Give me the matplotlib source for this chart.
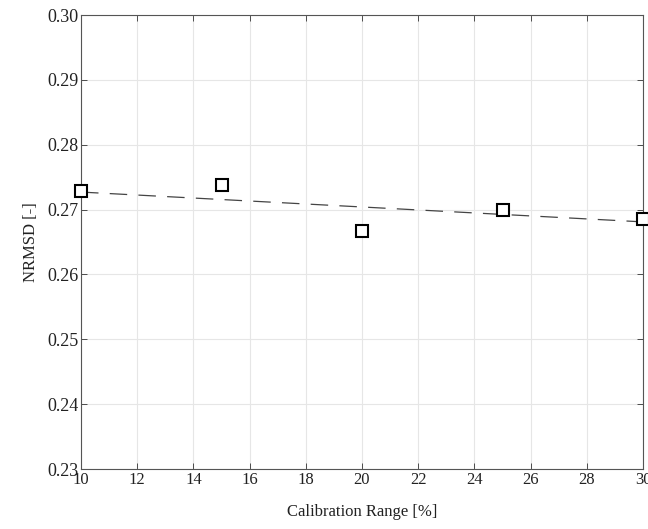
import matplotlib
matplotlib.use("Agg")
import matplotlib.pyplot as plt

# Data
calib_range = [10, 15, 20, 25, 30]
nrmsd = [0.2728, 0.2738, 0.2667, 0.2700, 0.2686]
trend_x = [10, 30]
trend_y = [0.2727, 0.2681]

x_ticks = [10, 12, 14, 16, 18, 20, 22, 24, 26, 28, 30]
y_ticks = [0.23, 0.24, 0.25, 0.26, 0.27, 0.28, 0.29, 0.30]

plt.rcParams["font.family"] = ["Liberation Serif", "DejaVu Serif"]
plt.rcParams["font.size"] = 12

fig = plt.figure(figsize=(6.48, 5.29), dpi=100)
ax = fig.add_axes([81 / 648, 1 - 469 / 529, (643 - 81) / 648, (469 - 15) / 529])

# dashed trend line
ax.plot(trend_x, trend_y, color="#444444", linestyle=(0, (14, 9)), linewidth=0.9,
        zorder=2)
ax.plot(calib_range, nrmsd, linestyle="none", marker="s", markersize=8,
        markerfacecolor="white", markeredgecolor="black", markeredgewidth=1.5,
        zorder=3, clip_on=False)

ax.set_xlim(10, 30)
ax.set_ylim(0.23, 0.30)
ax.set_xticks(x_ticks)
ax.set_yticks(y_ticks)
ax.set_yticklabels([f"{v:.2f}" for v in y_ticks])
ax.grid(True, color="#e6e6e6", linewidth=0.8)
ax.set_axisbelow(True)

for s in ax.spines.values():
    s.set_color("#555555")
    s.set_linewidth(0.8)
ax.tick_params(direction="in", top=True, right=True, length=4, width=0.6,
               color="#333333", labelcolor="#222222", pad=2)
ax.tick_params(axis="y", labelsize=13)

ax.set_xlabel("Calibration Range [%]", labelpad=12, color="#222222")
ax.set_ylabel("NRMSD [-]", labelpad=6, color="#222222")

fig.savefig("out.png", dpi=100)
